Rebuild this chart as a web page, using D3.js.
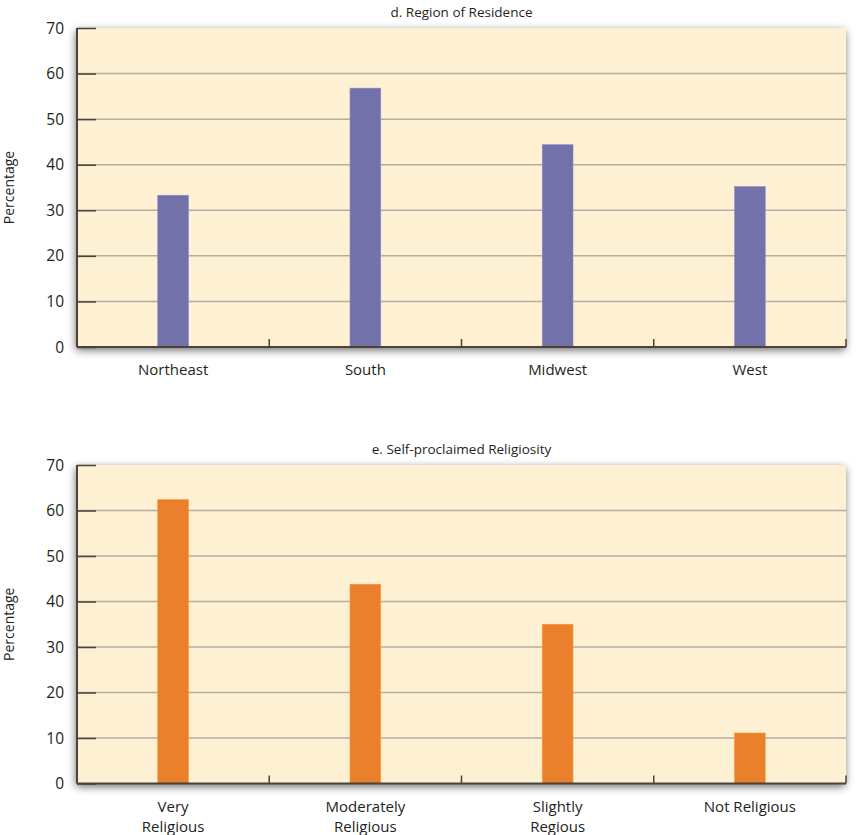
<!DOCTYPE html>
<html><head><meta charset="utf-8">
<script src="https://cdn.jsdelivr.net/npm/d3@7"></script>
<style>body{margin:0;background:#fff;}svg{display:block;font-family:"Open Sans",sans-serif;}</style>
</head><body>
<script>
const regionCategories = ["Northeast", "South", "Midwest", "West"];
const regionValues = [33.3, 56.8, 44.4, 35.2];
const religCategories = [["Very", "Religious"], ["Moderately", "Religious"], ["Slightly", "Regious"], ["Not Religious"]];
const religValues = [62.4, 43.8, 35.0, 11.1];
const yTicks = [0, 10, 20, 30, 40, 50, 60, 70];
const titles = ["d. Region of Residence", "e. Self-proclaimed Religiosity"];
const yLabel = "Percentage";

const W = 865, H = 835;
const svg = d3.select("body").append("svg").attr("width", W).attr("height", H);
const defs = svg.append("defs");
const f = defs.append("filter").attr("id", "sh").attr("x", "-10%").attr("y", "-20%").attr("width", "120%").attr("height", "140%");
f.append("feDropShadow").attr("dx", -1).attr("dy", 3).attr("stdDeviation", 4.5).attr("flood-color", "#000").attr("flood-opacity", 0.6);

function panel(top, bottom, cats, vals, color, title) {
  const left = 77, right = 846;
  const x = d3.scaleBand().domain(d3.range(cats.length)).range([left, right]);
  const y = d3.scaleLinear().domain([0, 70]).range([bottom, top]);
  const g = svg.append("g");
  g.append("rect").attr("x", left).attr("y", top).attr("width", right - left).attr("height", bottom - top)
    .attr("fill", "#fef0d2").attr("filter", "url(#sh)");
  g.selectAll(".grid").data(yTicks.filter(d => d > 0 && d < 70)).join("line")
    .attr("x1", left).attr("x2", right).attr("y1", d => y(d)).attr("y2", d => y(d))
    .attr("stroke", "#b3aea4").attr("stroke-width", 1.5);
  const ya = g.append("g").attr("transform", `translate(${left},0)`)
    .call(d3.axisRight(y).tickValues(yTicks).tickSize(19).tickFormat(""));
  ya.select(".domain").remove();
  ya.selectAll("line").attr("stroke", "#4b4238").attr("stroke-width", 1.5);
  g.selectAll(".ylab").data(yTicks).join("text")
    .attr("x", 64).attr("y", d => y(d)).attr("dy", "0.36em").attr("text-anchor", "end")
    .attr("font-size", 15.5).attr("fill", "#231f20").text(d => d);
  const bw = x.bandwidth() * 0.16;
  g.selectAll(".bar").data(vals).join("rect")
    .attr("x", (d, i) => x(i) + x.bandwidth() / 2 - bw / 2).attr("width", bw)
    .attr("y", d => y(d)).attr("height", d => y(0) - y(d))
    .attr("fill", color).attr("stroke", d3.color(color).brighter(0.6)).attr("stroke-width", 0.6);
  g.append("line").attr("x1", left).attr("x2", left).attr("y1", top).attr("y2", bottom).attr("stroke", "#4b4238").attr("stroke-width", 2);
  g.append("line").attr("x1", left).attr("x2", right).attr("y1", bottom).attr("y2", bottom).attr("stroke", "#4b4238").attr("stroke-width", 2);
  g.selectAll(".ct").data(d3.range(1, cats.length + 1)).join("line")
    .attr("x1", i => i < cats.length ? x(i) : right).attr("x2", i => i < cats.length ? x(i) : right)
    .attr("y1", bottom - 8).attr("y2", bottom).attr("stroke", "#4b4238").attr("stroke-width", 1.5);
  cats.forEach((c, i) => {
    const lines = Array.isArray(c) ? c : [c];
    const t = g.append("text").attr("x", x(i) + x.bandwidth() / 2).attr("y", bottom + 28)
      .attr("text-anchor", "middle").attr("font-size", 15).attr("fill", "#231f20");
    lines.forEach((l, k) => t.append("tspan").attr("x", x(i) + x.bandwidth() / 2).attr("dy", k ? 20 : 0).text(l));
  });
  svg.append("text").attr("x", (left + right) / 2).attr("y", top - 11).attr("text-anchor", "middle")
    .attr("font-size", 13.5).attr("fill", "#231f20").text(title);
  svg.append("text").attr("transform", `translate(14,${(top + bottom) / 2}) rotate(-90)`)
    .attr("text-anchor", "middle").attr("font-size", 14).attr("fill", "#231f20").text(yLabel);
}
panel(28, 347, regionCategories, regionValues, "#7271a9", titles[0]);
panel(465, 783.5, religCategories, religValues, "#ea7f2c", titles[1]);
</script>
</body></html>
